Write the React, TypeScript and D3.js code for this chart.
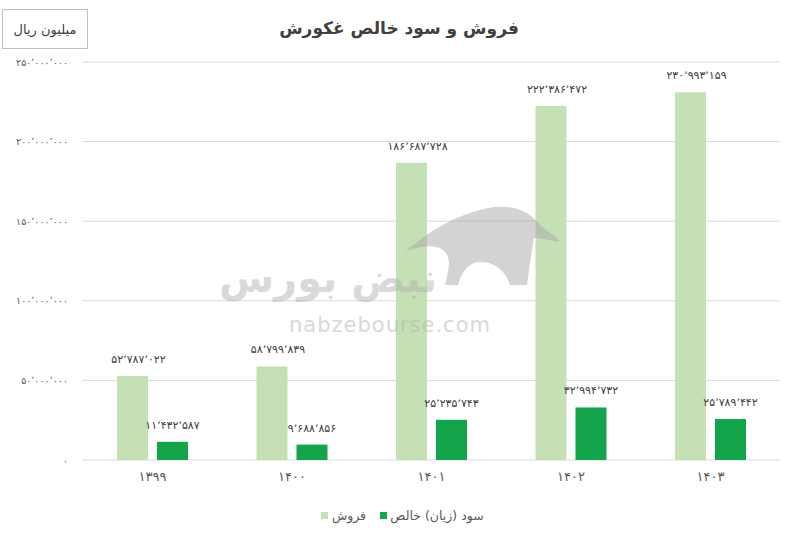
import React from 'react';
import * as d3 from 'd3';

const years = ['۱۳۹۹', '۱۴۰۰', '۱۴۰۱', '۱۴۰۲', '۱۴۰۳'];
const sales = [52787022, 58799839, 186687728, 222386472, 230993159];
const profit = [11432587, 9688856, 25235743, 32994732, 25789442];
const seriesNames = ['فروش', 'سود (زیان) خالص'];
const seriesColors = ['#c5e0b4', '#13a44c'];
const yTicks = [0, 50000000, 100000000, 150000000, 200000000, 250000000];
const title = 'فروش و سود خالص غکورش';
const unitLabel = 'میلیون ریال';

const FA = '۰۱۲۳۴۵۶۷۸۹';
const toFa = (v: number, sep: string) =>
  d3.format(',')(v).replace(/\d/g, (d) => FA[+d]).replace(/,/g, sep);

const FONT = 'DejaVu Sans, sans-serif';

export default function App() {
  const W = 800;
  const H = 537;
  const x0 = d3
    .scaleBand<string>()
    .domain(years)
    .range([82.75, 780.25])
    .paddingInner(0.491)
    .paddingOuter(0.2455);
  const x1 = d3
    .scaleBand<number>()
    .domain([0, 1])
    .range([0, x0.bandwidth()])
    .paddingInner(0.225);
  const y = d3.scaleLinear().domain([0, 250000000]).range([460, 62]);
  const series = [sales, profit];

  return (
    <svg
      width={W}
      height={H}
      style={{ position: 'absolute', left: 0, top: 0, background: '#fff' }}
      fontFamily={FONT}
    >
      <rect x={0} y={0} width={W} height={H} fill="#fff" />
      {/* unit box */}
      <rect x={2.5} y={9.5} width={85} height={39} fill="#fff" stroke="#bfbfbf" />
      <text x={45} y={34} textAnchor="middle" fontSize={13} fill="#404040">
        {unitLabel}
      </text>
      {/* title */}
      <text x={399} y={34} textAnchor="middle" fontSize={17} fontWeight="bold" fill="#404040">
        {title}
      </text>
      {/* gridlines & y labels */}
      {yTicks.map((t) => (
        <g key={t}>
          <line x1={82} x2={780} y1={y(t)} y2={y(t)} stroke="#d9d9d9" strokeWidth={1} />
          <text x={68} y={y(t) + 3.5} textAnchor="end" fontSize={9.5} fill="#595959">
            {toFa(t, '٬')}
          </text>
        </g>
      ))}
      {/* bars */}
      {years.map((yr, i) => (
        <g key={yr} transform={`translate(${x0(yr)},0)`}>
          {series.map((s, k) => (
            <rect
              key={k}
              x={x1(k)}
              y={y(s[i])}
              width={x1.bandwidth()}
              height={y(0) - y(s[i])}
              fill={seriesColors[k]}
            />
          ))}
        </g>
      ))}
      {/* watermark */}
      <g opacity={0.5}>
        <path
          d="M405,252 C430,230 460,212 495,207 C515,205 530,212 540,225 C548,232 556,236 560,242 C548,240 540,238 534,238 C532,250 530,262 527,285 L510,285 C505,270 495,262 480,262 C470,262 462,270 458,285 L445,285 C450,265 452,255 440,248 C428,244 415,248 405,252 Z"
          fill="#a8a8a8"
        />
        <text x={328} y={292} textAnchor="middle" fontSize={40} fontWeight="bold" fill="#b5b5b5">
          نبض بورس
        </text>
        <text x={390} y={332} textAnchor="middle" fontSize={21} fill="#b5b5b5" letterSpacing={1}>
          nabzebourse.com
        </text>
      </g>
      {/* data labels */}
      {years.map((yr, i) =>
        series.map((s, k) => (
          <text
            key={`${yr}-${k}`}
            x={(x0(yr) as number) + (x1(k) as number) + x1.bandwidth() / 2 + (k === 0 ? 6 : 0)}
            y={y(s[i]) - 13}
            textAnchor="middle"
            fontSize={11}
            letterSpacing={0.3}
            fill="#404040"
          >
            {toFa(s[i], '٬')}
          </text>
        ))
      )}
      {/* x labels */}
      {years.map((yr) => (
        <text
          key={yr}
          x={(x0(yr) as number) + x0.bandwidth() / 2}
          y={481}
          textAnchor="middle"
          fontSize={13}
          fill="#595959"
        >
          {yr}
        </text>
      ))}
      {/* legend */}
      <rect x={321} y={512} width={7} height={7} fill={seriesColors[0]} />
      <text x={349} y={520} textAnchor="middle" fontSize={12.5} fill="#595959">
        {seriesNames[0]}
      </text>
      <rect x={380} y={512} width={7} height={7} fill={seriesColors[1]} />
      <text x={437} y={520} textAnchor="middle" fontSize={12.5} fill="#595959">
        {seriesNames[1]}
      </text>
    </svg>
  );
}
